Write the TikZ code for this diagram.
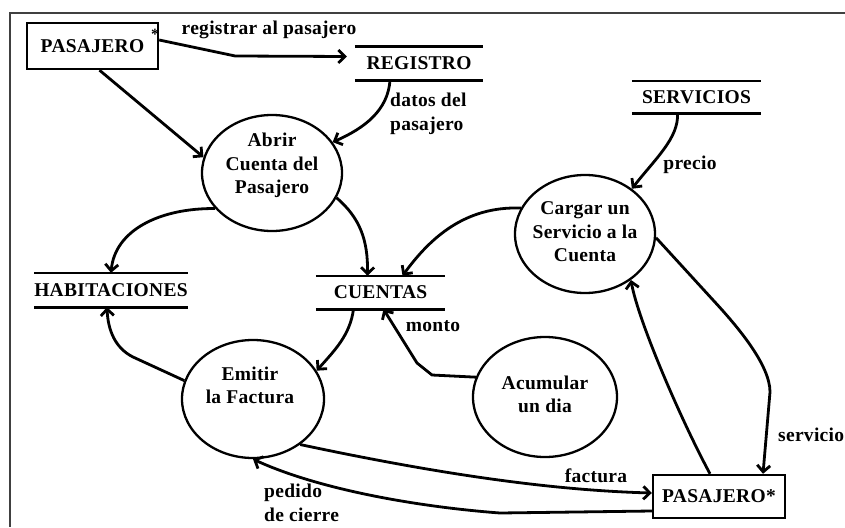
\documentclass[tikz,border=0pt]{standalone}
\usepackage{fontspec}
\setmainfont{Liberation Serif}[LetterSpace=1.5]
\usetikzlibrary{arrows.meta,shapes.geometric}
\definecolor{framegray}{HTML}{404040}
\begin{document}
\begin{tikzpicture}[x=1pt,y=-1pt,
  every node/.style={font=\fontsize{19.5}{23.5}\selectfont\bfseries, inner sep=0pt},
  proc/.style={ellipse, draw, line width=2.3pt},
  ent/.style={rectangle, draw, line width=2.4pt},
  store/.style={rectangle, inner sep=0pt},
  storeline/.style={line width=2.6pt},
  flow/.style={line width=2.8pt, -{Straight Barb[length=6.5pt,width=13pt]}},
  ptext/.style={align=center},
]
\useasboundingbox (0,0) rectangle (845,527);
\draw[line width=2pt, color=framegray] (845,13) -- (10,13) -- (10,527);

% external entities
\node[ent, minimum width=131pt, minimum height=46pt] (pas1) at (92.5,46) {PASAJERO};
\node[anchor=base, scale=0.8] (ast) at (155,40) {*};
\node[ent, minimum width=132pt, minimum height=43pt] (pas2) at (719,496.5) {PASAJERO*};

% data stores
\node[store, minimum width=128pt, minimum height=33pt] (reg) at (419,63.5) {REGISTRO};
\node[store, minimum width=129pt, minimum height=32pt] (serv) at (696.5,97) {SERVICIOS};
\node[store, minimum width=128pt, minimum height=34pt] (hab) at (111,290) {HABITACIONES};
\node[store, minimum width=129pt, minimum height=33pt] (cue) at (380.5,292.5) {CUENTAS};
\foreach \s in {reg,serv,hab,cue}{
  \draw[storeline] (\s.north west) -- (\s.north east) (\s.south west) -- (\s.south east);
}

% processes
\node[proc, minimum width=140pt, minimum height=116pt] (abrir) at (272,173) {};
\node[ptext] (abrirt) at ([yshift=7.5pt]abrir.center) {Abrir\\Cuenta del\\Pasajero};
\node[proc, minimum width=140pt, minimum height=118pt] (cargar) at (585,234) {};
\node[ptext] (cargart) at ([yshift=2pt]cargar.center) {Cargar un\\Servicio a la\\Cuenta};
\node[proc, minimum width=142pt, minimum height=118pt] (emitir) at (253,399) {};
\node[ptext] (emitirt) at ([xshift=-3pt,yshift=13.5pt]emitir.center) {Emitir\\la Factura};
\node[proc, minimum width=144pt, minimum height=120pt] (acum) at (545,397) {};
\node[ptext] (acumt) at ([yshift=2.5pt]acum.center) {Acumular\\un dia};

% flows
\draw[flow] ([yshift=6pt]pas1.east) -- ++(76,16) -- ([xshift=-8pt,yshift=7pt]reg.west);
\draw[flow] ([xshift=7pt]pas1.south) -- (abrir.167);
\draw[flow] ([xshift=-29pt]reg.south) .. controls (388,110) and (365,128) .. (abrir.27);
\draw[flow] ([xshift=-19pt]serv.south) .. controls (679,138) and (655,159) .. (cargar.44);
\draw[flow] (cargar.158) .. controls (465,206) and (430,238) .. ([xshift=22pt]cue.north);
\draw[flow] (abrir.339) .. controls (360,218) and (368,240) .. ([xshift=-13pt]cue.north);
\draw[flow] (abrir.212) .. controls (160,208) and (115,230) .. (hab.north);
\draw[flow] (emitir.165) -- (133,357) .. controls (115,348) and (108,330) .. ([xshift=-4pt]hab.south);
\draw[flow] ([xshift=-27pt]cue.south) .. controls (350,335) and (335,350) .. (emitir.24);
\draw[flow] (acum.164) -- (432,375) -- (417,363) -- ([xshift=3pt]cue.south);
\draw[flow] (cargar.357) -- (713,300) .. controls (738,327) and (770,365) .. (770,392) -- ([xshift=44pt]pas2.north);
\draw[flow] ([xshift=-9pt]pas2.north) .. controls (680,418) and (638,320) .. (cargar.315);
\draw[flow] (emitir.316) .. controls (420,470) and (540,490) .. ([yshift=3.5pt]pas2.west);
\draw[flow] ([yshift=-14.5pt]pas2.west) -- (500,513) .. controls (420,507) and (320,490) .. (emitir.south);

% labels
\node (l1) at (269,30) {registrar al pasajero};
\node[align=left, anchor=west] (l2) at (390,114) {datos del\\pasajero};
\node (l3) at (690,165) {precio};
\node (l4) at (433,326) {monto};
\node[anchor=west] (l5) at (778,435) {servicio};
\node (l6) at (596,476) {factura};
\node[align=left, anchor=west] (l7) at (264,503) {pedido\\de cierre};
\end{tikzpicture}
\end{document}
